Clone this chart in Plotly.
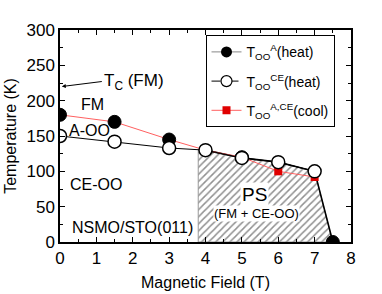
import plotly.graph_objects as go

# Data
field_a_heat = [0, 1.5, 3, 5, 7.5]
temp_a_heat = [180, 170, 145, 120, 0]
field_ce_heat = [0, 1.5, 3, 4, 5, 6, 7]
temp_ce_heat = [150, 142, 133, 130, 119, 113, 100]
field_cool = [0, 1.5, 3, 4, 5, 6, 7]
temp_cool = [180, 170, 145, 130, 120, 100, 92]
ps_field = [3.8, 3.8, 4, 5, 6, 7, 7.5, 3.8]
ps_temp = [0, 130, 130, 119, 113, 100, 0, 0]
boundary_field = [4, 5, 6, 7, 7.5]
boundary_temp = [130, 119, 113, 100, 0]

FONT = "Liberation Sans, Arial, sans-serif"

fig = go.Figure()

# PS hatched region
fig.add_trace(go.Scatter(
    x=ps_field, y=ps_temp, mode="lines", fill="toself",
    fillcolor="rgba(255,255,255,0)",
    fillpattern=dict(shape="/", fgcolor="#222222", bgcolor="white", size=5, solidity=0.3),
    line=dict(color="#999999", width=1), showlegend=False, hoverinfo="skip"))
fig.add_trace(go.Scatter(
    x=boundary_field, y=boundary_temp, mode="lines",
    line=dict(color="black", width=1.6), showlegend=False, hoverinfo="skip"))

# data series
fig.add_trace(go.Scatter(
    x=field_cool, y=temp_cool, mode="lines+markers",
    line=dict(color="#ff6060", width=1),
    marker=dict(symbol="square", size=8, color="#e00000", line=dict(color="#e00000", width=0)),
    showlegend=False))
fig.add_trace(go.Scatter(
    x=field_a_heat, y=temp_a_heat, mode="markers",
    marker=dict(symbol="circle", size=13, color="black", line=dict(color="black", width=1)),
    showlegend=False))
fig.add_trace(go.Scatter(
    x=field_ce_heat, y=temp_ce_heat, mode="lines+markers",
    line=dict(color="black", width=1),
    marker=dict(symbol="circle", size=13, color="white", line=dict(color="black", width=1.5)),
    showlegend=False))

# legend entries
fig.add_trace(go.Scatter(
    x=[None], y=[None], mode="lines+markers", name="T<sub>OO</sub><sup>A</sup>(heat)",
    legendgroup="a", line=dict(color="#888888", width=1),
    marker=dict(symbol="circle", size=11, color="black")))
fig.add_trace(go.Scatter(
    x=[None], y=[None], mode="lines+markers", name="T<sub>OO</sub><sup>CE</sup>(heat)",
    legendgroup="b", line=dict(color="black", width=1, dash="dash"),
    marker=dict(symbol="circle", size=11, color="white", line=dict(color="black", width=1.2))))
fig.add_trace(go.Scatter(
    x=[None], y=[None], mode="lines+markers", name="T<sub>OO</sub><sup>A,CE</sup>(cool)",
    legendgroup="c", line=dict(color="#ff6060", width=1),
    marker=dict(symbol="square", size=8, color="#e00000")))

ann = dict(showarrow=False, font=dict(family=FONT, size=16, color="black"))
fig.add_annotation(x=0.9, y=194, text="FM", **ann)
fig.add_annotation(x=0.82, y=158, text="A-OO", **ann)
fig.add_annotation(x=1.0, y=82, text="CE-OO", **ann)
fig.add_annotation(x=2.0, y=21, text="NSMO/STO(011)", **ann)
fig.add_annotation(x=5.35, y=67, text="PS", bgcolor="white",
                   showarrow=False, font=dict(family=FONT, size=19, color="black"))
fig.add_annotation(x=5.4, y=40, text="(FM + CE-OO)", bgcolor="white", borderpad=0,
                   showarrow=False, font=dict(family=FONT, size=13, color="black"))
fig.add_annotation(x=0.05, y=220, text="T<sub>C</sub> (FM)", xanchor="left",
                   ax=40, ay=-5, axref="pixel", ayref="pixel",
                   showarrow=True, arrowhead=2, arrowsize=0.8, arrowwidth=1, arrowcolor="black",
                   font=dict(family=FONT, size=17, color="black"))

axis_common = dict(
    showline=True, linecolor="black", linewidth=1.5, mirror="allticks",
    ticks="inside", ticklen=5, tickwidth=1, tickcolor="black",
    showgrid=False, zeroline=False, automargin=False,
    tickfont=dict(family=FONT, size=17, color="black"),
)
fig.update_xaxes(range=[0, 8], dtick=1, tick0=0,
                 minor=dict(dtick=0.5, ticks="inside", ticklen=3, tickcolor="black"),
                 title=dict(text="Magnetic Field (T)", font=dict(family=FONT, size=16, color="black"), standoff=10),
                 **axis_common)
fig.update_yaxes(range=[0, 300], dtick=50, tick0=0,
                 minor=dict(dtick=25, ticks="inside", ticklen=3, tickcolor="black"),
                 title=dict(text="Temperature (K)", font=dict(family=FONT, size=16, color="black"), standoff=6),
                 **axis_common)

fig.update_layout(
    width=382, height=294,
    margin=dict(l=60, r=31, t=30, b=52),
    plot_bgcolor="white", paper_bgcolor="white",
    font=dict(family=FONT, color="black"),
    legend=dict(x=0.5, y=0.975, xanchor="left", yanchor="top",
                bordercolor="black", borderwidth=1, bgcolor="white",
                font=dict(family=FONT, size=14, color="black"),
                tracegroupgap=8, itemwidth=30),
)

fig.write_html("out.html", config={"displayModeBar": False},
               post_script="document.body.style.margin='0';document.body.style.padding='0';")
